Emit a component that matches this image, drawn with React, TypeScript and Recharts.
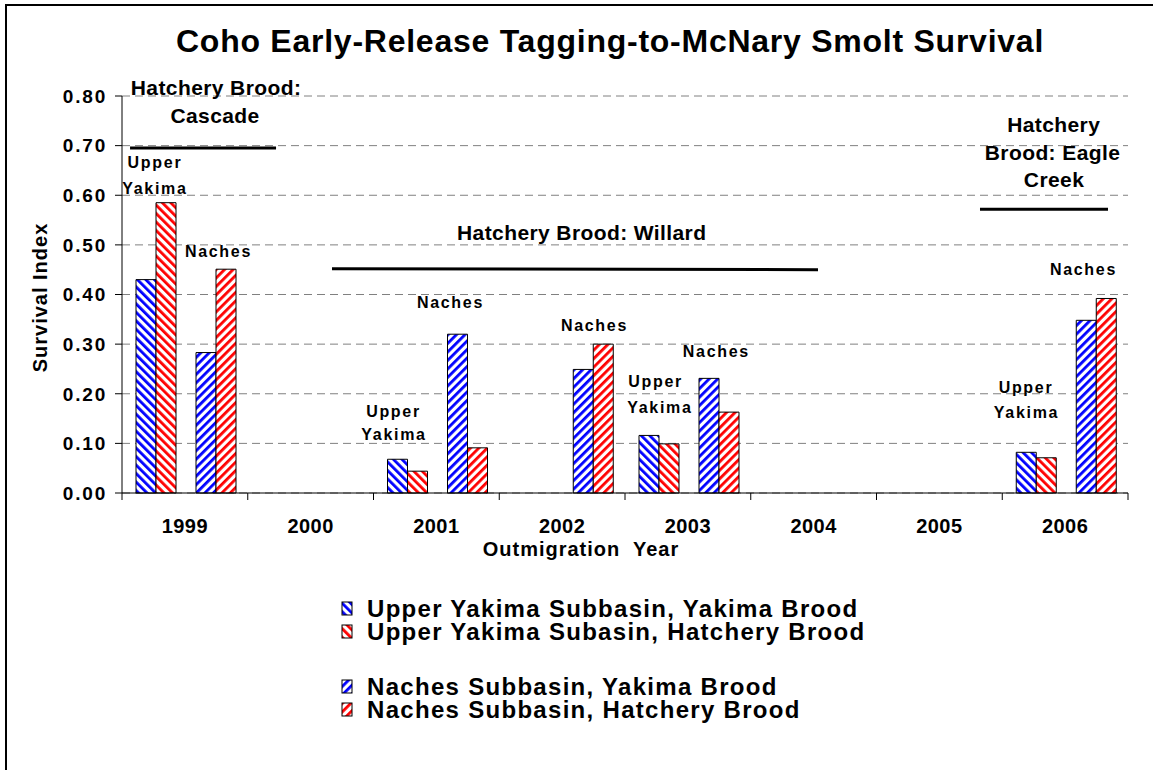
import React from 'react';
import { BarChart, Bar, XAxis, YAxis, CartesianGrid, ReferenceLine, ReferenceDot } from 'recharts';

const FONT = '"Liberation Sans", Arial, Helvetica, sans-serif';

const years = ['1999', '2000', '2001', '2002', '2003', '2004', '2005', '2006'];
const upperYakimaBrood = [0.43, null, 0.068, null, 0.116, null, null, 0.082];
const upperHatcheryBrood = [0.585, null, 0.044, null, 0.099, null, null, 0.071];
const nachesYakimaBrood = [0.283, null, 0.32, 0.249, 0.231, null, null, 0.348];
const nachesHatcheryBrood = [0.451, null, 0.091, 0.3, 0.163, null, null, 0.392];
const yTicks = [0, 0.1, 0.2, 0.3, 0.4, 0.5, 0.6, 0.7, 0.8];

const seriesNames = [
  'Upper Yakima Subbasin, Yakima Brood',
  'Upper Yakima Subasin, Hatchery Brood',
  'Naches Subbasin, Yakima Brood',
  'Naches Subbasin, Hatchery Brood',
];
const seriesPatterns = ['blueBack', 'redBack', 'blueFwd', 'redFwd'];

// subbasin notes over the bar pairs: x counts years from the left edge of the axis
const siteLabels: [string, number, number][] = [
  ['Upper', 0.262, 0.655],
  ['Yakima', 0.262, 0.603],
  ['Naches', 0.767, 0.476],
  ['Upper', 2.159, 0.154],
  ['Yakima', 2.163, 0.107],
  ['Naches', 2.612, 0.372],
  ['Naches', 3.757, 0.327],
  ['Upper', 4.243, 0.213],
  ['Yakima', 4.278, 0.162],
  ['Naches', 4.727, 0.275],
  ['Upper', 7.189, 0.202],
  ['Yakima', 7.193, 0.151],
  ['Naches', 7.646, 0.439],
];

const broodLabels: [string, number, number][] = [
  ['Hatchery Brood:', 0.748, 0.802],
  ['Cascade', 0.74, 0.746],
  ['Hatchery Brood: Willard', 3.656, 0.51],
  ['Hatchery', 7.409, 0.728],
  ['Brood: Eagle', 7.4, 0.671],
  ['Creek', 7.412, 0.616],
];

// spans of each hatchery brood stock: [x1, y1, x2, y2]
const broodLines: [number, number, number, number][] = [
  [0.064, 0.695, 1.225, 0.695],
  [1.67, 0.452, 5.535, 0.45],
  [6.823, 0.572, 7.841, 0.572],
];

const data = years.map((year, i) => ({
  year,
  slot: i + 0.5,
  uyYakima: upperYakimaBrood[i],
  uyHatchery: upperHatcheryBrood[i],
  gap: null,
  naYakima: nachesYakimaBrood[i],
  naHatchery: nachesHatcheryBrood[i],
}));

function StripeDefs() {
  const defs = [
    { id: 'blueBack', color: '#0000ff', angle: -45 },
    { id: 'redBack', color: '#ff0000', angle: -45 },
    { id: 'blueFwd', color: '#0000ff', angle: 45 },
    { id: 'redFwd', color: '#ff0000', angle: 45 },
  ];
  return (
    <svg width={0} height={0} style={{ position: 'absolute' }}>
      <defs>
        {defs.map((d) => (
          <pattern
            key={d.id}
            id={d.id}
            patternUnits="userSpaceOnUse"
            width={6}
            height={6}
            patternTransform={`rotate(${d.angle})`}
          >
            <rect width={6} height={6} fill="#fff" />
            <rect width={2.8} height={6} fill={d.color} />
          </pattern>
        ))}
      </defs>
    </svg>
  );
}

function YearTick(props: any) {
  const { x, y, payload, index, visibleTicksCount, width } = props;
  const half = payload?.offset || width / visibleTicksCount / 2;
  return (
    <g>
      <line x1={x - half} x2={x - half} y1={y} y2={y + 7} stroke="#000" />
      {index === visibleTicksCount - 1 && (
        <line x1={x + half} x2={x + half} y1={y} y2={y + 7} stroke="#000" />
      )}
      <text
        x={x}
        y={y + 40}
        textAnchor="middle"
        fontFamily={FONT}
        fontSize={20}
        fontWeight="bold"
        letterSpacing={0.5}
        fill="#000"
      >
        {payload.value}
      </text>
    </g>
  );
}

function ValueTick(props: any) {
  const { x, y, payload } = props;
  return (
    <text
      x={x + 2}
      y={y}
      dy="0.36em"
      textAnchor="end"
      fontFamily={FONT}
      fontSize={19}
      fontWeight="bold"
      letterSpacing={1.8}
      fill="#000"
    >
      {Number(payload.value).toFixed(2)}
    </text>
  );
}

function YTitle(props: any) {
  const vb = props.viewBox || { x: 0, y: 96, width: 122, height: 397 };
  const cx = vb.x + 46.5;
  const cy = vb.y + vb.height / 2 + 3;
  return (
    <text
      transform={`translate(${cx},${cy}) rotate(-90)`}
      textAnchor="middle"
      fontFamily={FONT}
      fontSize={20}
      fontWeight="bold"
      letterSpacing={1}
      fill="#000"
    >
      Survival Index
    </text>
  );
}

function XTitle(props: any) {
  const vb = props.viewBox || { x: 122, y: 493, width: 1006, height: 70 };
  return (
    <text
      x={vb.x + vb.width / 2 - 44}
      y={vb.y + 63}
      textAnchor="middle"
      fontFamily={FONT}
      fontSize={20}
      fontWeight="bold"
      letterSpacing={1}
      fill="#000"
      style={{ whiteSpace: 'pre' }}
    >
      {'Outmigration  Year'}
    </text>
  );
}

function noteShape(text: string, size: number, spacing: number) {
  return (p: any) => (
    <text
      x={p.cx}
      y={p.cy}
      textAnchor="middle"
      fontFamily={FONT}
      fontSize={size}
      fontWeight="bold"
      letterSpacing={spacing}
      fill="#000"
    >
      {text}
    </text>
  );
}

const legendBaselines = [617, 640, 695, 718];

export default function App() {
  return (
    <div
      style={{
        position: 'absolute',
        left: 0,
        top: 0,
        width: 1153,
        height: 770,
        background: '#fff',
        overflow: 'hidden',
      }}
    >
      <StripeDefs />
      <div
        style={{
          position: 'absolute',
          left: 5,
          top: 4,
          width: 1300,
          height: 900,
          border: '2px solid #000',
        }}
      />
      <div style={{ position: 'absolute', left: 0, top: 0 }}>
        <BarChart
          width={1153}
          height={563}
          data={data}
          margin={{ top: 96, right: 25, bottom: 0, left: 0 }}
          barGap={0}
          barCategoryGap={14}
        >
          <CartesianGrid vertical={false} stroke="#808080" strokeDasharray="8 5" />
          <XAxis
            dataKey="year"
            height={70}
            tickLine={false}
            tickSize={0}
            tickMargin={0}
            axisLine={{ stroke: '#000' }}
            tick={<YearTick />}
            interval={0}
            label={(p: any) => <XTitle {...p} />}
          />
          <XAxis
            xAxisId="pos"
            dataKey="slot"
            type="number"
            domain={[0, years.length]}
            allowDataOverflow
            hide
          />
          <YAxis
            width={122}
            domain={[0, 0.8]}
            ticks={yTicks}
            interval={0}
            tickSize={7}
            tickMargin={10}
            tickLine={{ stroke: '#000' }}
            axisLine={{ stroke: '#000' }}
            tick={<ValueTick />}
            label={(p: any) => <YTitle {...p} />}
          />
          <Bar dataKey="uyYakima" fill="url(#blueBack)" stroke="#000" strokeWidth={1} isAnimationActive={false} />
          <Bar dataKey="uyHatchery" fill="url(#redBack)" stroke="#000" strokeWidth={1} isAnimationActive={false} />
          <Bar dataKey="gap" fill="none" isAnimationActive={false} />
          <Bar dataKey="naYakima" fill="url(#blueFwd)" stroke="#000" strokeWidth={1} isAnimationActive={false} />
          <Bar dataKey="naHatchery" fill="url(#redFwd)" stroke="#000" strokeWidth={1} isAnimationActive={false} />
          {broodLines.map(([x1, y1, x2, y2], i) => (
            <ReferenceLine
              key={`bl${i}`}
              xAxisId="pos"
              segment={[{ x: x1, y: y1 }, { x: x2, y: y2 }]}
              stroke="#000"
              strokeWidth={3}
              ifOverflow="visible"
            />
          ))}
          {siteLabels.map(([text, x, y], i) => (
            <ReferenceDot
              key={`sl${i}`}
              xAxisId="pos"
              x={x}
              y={y}
              r={0}
              ifOverflow="visible"
              shape={noteShape(text, 16, 1.7)}
            />
          ))}
          {broodLabels.map(([text, x, y], i) => (
            <ReferenceDot
              key={`br${i}`}
              xAxisId="pos"
              x={x}
              y={y}
              r={0}
              ifOverflow="visible"
              shape={noteShape(text, 21, 0.4)}
            />
          ))}
        </BarChart>
      </div>
      <svg
        width={1153}
        height={770}
        style={{ position: 'absolute', left: 0, top: 0, pointerEvents: 'none' }}
      >
        <text
          x={610}
          y={52}
          textAnchor="middle"
          fontFamily={FONT}
          fontSize={32}
          fontWeight="bold"
          letterSpacing={0.75}
          fill="#000"
        >
          Coho Early-Release Tagging-to-McNary Smolt Survival
        </text>
        {seriesNames.map((name, i) => (
          <g key={name}>
            <rect
              x={342}
              y={legendBaselines[i] - 15}
              width={10}
              height={13}
              fill={`url(#${seriesPatterns[i]})`}
              stroke="#000"
              strokeWidth={1}
            />
            <text
              x={367}
              y={legendBaselines[i]}
              fontFamily={FONT}
              fontSize={24}
              fontWeight="bold"
              letterSpacing={1.3}
              fill="#000"
            >
              {name}
            </text>
          </g>
        ))}
      </svg>
    </div>
  );
}
